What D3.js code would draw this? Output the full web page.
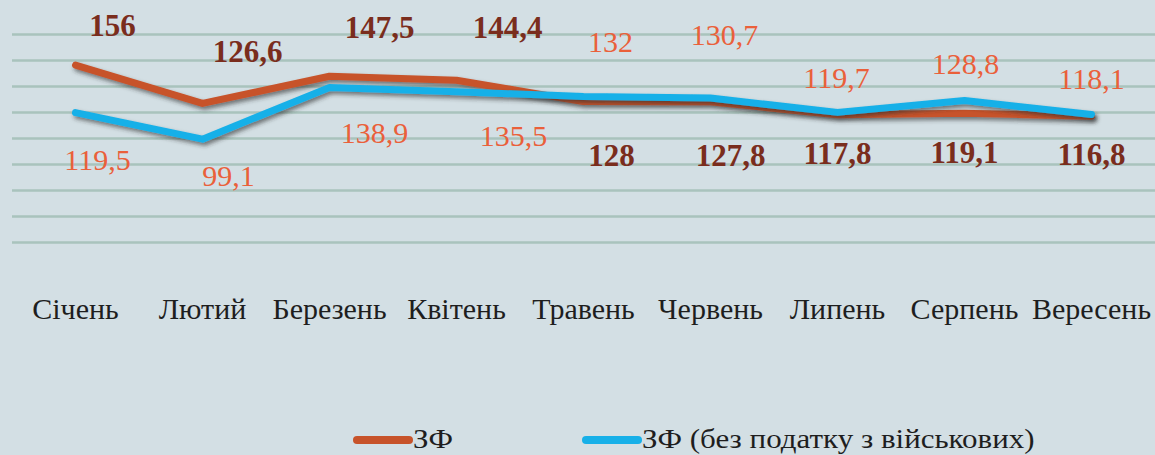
<!DOCTYPE html>
<html>
<head>
<meta charset="utf-8">
<script src="https://cdn.jsdelivr.net/npm/d3@7"></script>
<style>
  html, body { margin: 0; padding: 0; background: #d3dfe4; }
  svg { display: block; }
  svg text { font-family: "Liberation Serif", "Times New Roman", serif; }
</style>
</head>
<body>
<svg id="chart" width="1155" height="455"></svg>
<script>
// ---- data ----
const categories = ["Січень", "Лютий", "Березень", "Квітень", "Травень", "Червень", "Липень", "Серпень", "Вересень"];
const seriesNames = ["ЗФ", "ЗФ (без податку з військових)"];
const zfValues = [156, 126.6, 147.5, 144.4, 128, 127.8, 117.8, 119.1, 116.8];
const zfNoMilitaryValues = [119.5, 99.1, 138.9, 135.5, 132, 130.7, 119.7, 128.8, 118.1];
const gridTicks = [20, 40, 60, 80, 100, 120, 140, 160, 180];

// ---- layout (label offsets relative to each point, px) ----
const zfLabelOffsets = [[37, -29], [45, -41], [50, -38], [51, -42], [28, 64], [20, 64], [0, 49], [0, 50], [0, 49]];
const zfNoMilLabelOffsets = [[22, 57], [26, 47], [45, 56], [57, 54], [27, -44], [14, -53], [-1, -24], [1, -27], [0, -25]];

const W = 1155, H = 455;
const FONT = '"Liberation Serif", "Times New Roman", serif';
const svg = d3.select("#chart");

const x = d3.scaleBand().domain(categories).range([12, 1155]).padding(0);
const y = d3.scaleLinear().domain([0, 200]).range([268, 8]);
const cx = c => x(c) + x.bandwidth() / 2;

const fmt = v => String(v).replace(".", ",");

svg.append("rect").attr("width", W).attr("height", H).attr("fill", "#d3dfe4");

const defs = svg.append("defs");
const f = defs.append("filter").attr("id", "shadow").attr("x", "-5%").attr("y", "-50%").attr("width", "110%").attr("height", "200%");
f.append("feDropShadow").attr("dx", 2).attr("dy", 3).attr("stdDeviation", 2)
  .attr("flood-color", "#2a2a2a").attr("flood-opacity", 0.6);

// gridlines
svg.append("g").selectAll("line").data(gridTicks).join("line")
  .attr("x1", 12).attr("x2", W)
  .attr("y1", d => Math.round(y(d)) + 0.5).attr("y2", d => Math.round(y(d)) + 0.5)
  .attr("stroke", "#a9c3bd").attr("stroke-width", 2.5);

// category axis
const xAxis = d3.axisBottom(x).tickSize(0).tickPadding(0);
const gx = svg.append("g").attr("transform", "translate(0,297)").call(xAxis);
gx.attr("font-family", null);
gx.select(".domain").remove();
gx.selectAll("text")
  .attr("dy", "0.72em")
  .style("font-family", FONT)
  .style("font-size", "30px")
  .attr("fill", "#1e1e1e");

// lines
const line = d3.line().x((d, i) => cx(categories[i])).y(d => y(d));
const series = [
  { values: zfValues, color: "#c7532a", offsets: zfLabelOffsets, labelColor: "#7a2d1d", weight: "bold", size: 31 },
  { values: zfNoMilitaryValues, color: "#17b0e8", offsets: zfNoMilLabelOffsets, labelColor: "#ea603a", weight: "normal", size: 30 }
];

series.forEach(s => {
  svg.append("path").datum(s.values)
    .attr("d", line)
    .attr("fill", "none")
    .attr("stroke", s.color)
    .attr("stroke-width", 7)
    .attr("stroke-linejoin", "round")
    .attr("stroke-linecap", "round")
    .attr("filter", "url(#shadow)");
});

// data labels
series.forEach(s => {
  svg.append("g").selectAll("text").data(s.values).join("text")
    .attr("x", (d, i) => cx(categories[i]) + s.offsets[i][0])
    .attr("y", (d, i) => y(d) + s.offsets[i][1])
    .attr("text-anchor", "middle")
    .style("font-family", FONT)
    .style("font-size", s.size + "px")
    .style("font-weight", s.weight)
    .attr("fill", s.labelColor)
    .text(d => fmt(d));
});

// legend
const legendItems = [
  { name: seriesNames[0], color: series[0].color, x: 353 },
  { name: seriesNames[1], color: series[1].color, x: 582 }
];
const lg = svg.append("g");
legendItems.forEach(it => {
  lg.append("line")
    .attr("x1", it.x + 4).attr("x2", it.x + 56)
    .attr("y1", 440).attr("y2", 440)
    .attr("stroke", it.color).attr("stroke-width", 8).attr("stroke-linecap", "round");
  lg.append("text")
    .attr("transform", `translate(${it.x + 60},448) scale(1,0.9)`)
    .style("font-family", FONT)
    .style("font-size", "31px")
    .attr("fill", "#1e1e1e")
    .text(it.name);
});
</script>
</body>
</html>
